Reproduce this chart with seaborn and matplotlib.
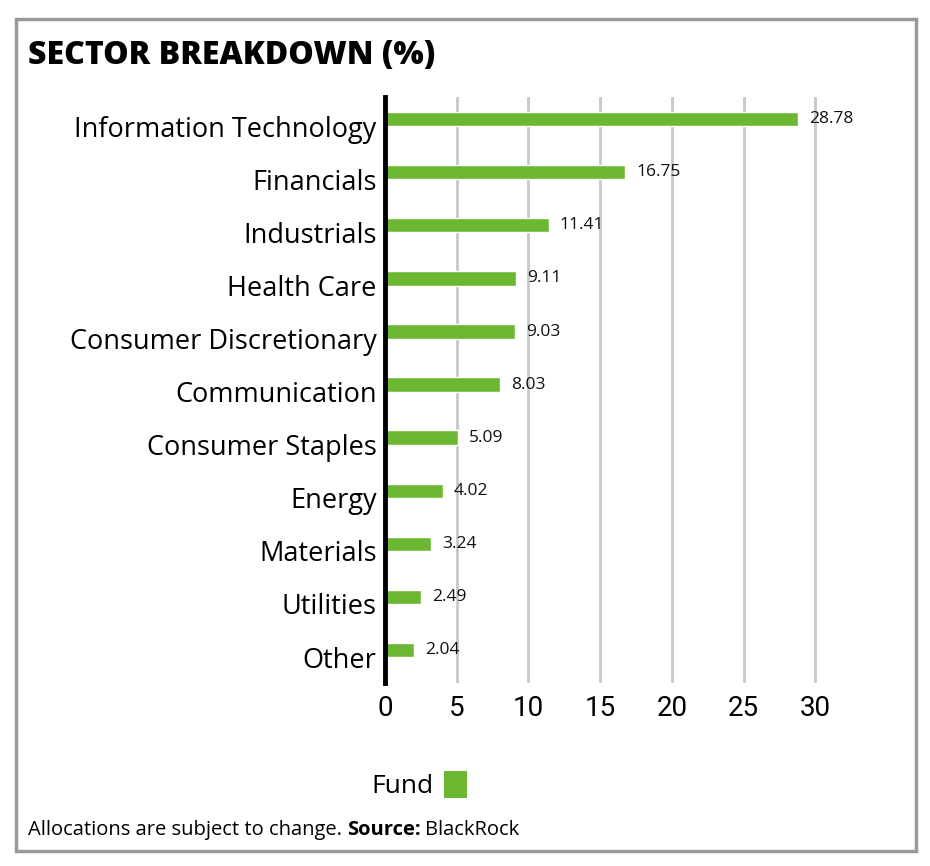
import matplotlib
matplotlib.use("Agg")
import matplotlib.pyplot as plt
import matplotlib.transforms as mtransforms
from matplotlib.patches import Rectangle, Patch
import seaborn as sns
import pandas as pd

# data
sectors = ["Information Technology", "Financials", "Industrials", "Health Care",
           "Consumer Discretionary", "Communication", "Consumer Staples", "Energy",
           "Materials", "Utilities", "Other"]
weights = [28.78, 16.75, 11.41, 9.11, 9.03, 8.03, 5.09, 4.02, 3.24, 2.49, 2.04]
x_ticks = [0, 5, 10, 15, 20, 25, 30]

green = "#6db833"

df = pd.DataFrame({"sector": sectors, "weight": weights})

sns.set_style("white")
plt.rcParams["font.family"] = ["Open Sans", "DejaVu Sans"]
plt.rcParams["text.color"] = "black"
plt.rcParams["xtick.color"] = "black"
plt.rcParams["ytick.color"] = "black"

fig = plt.figure(figsize=(9.3, 8.66), dpi=100)
ax = fig.add_axes([385 / 930, 1 - 683 / 866, (844 - 385) / 930, (683 - 97) / 866])

sns.barplot(data=df, x="weight", y="sector", color=green, saturation=1,
            width=0.27, ax=ax)

ax.set_xlim(0, 32)
ax.set_ylim(10.62, -0.415)
ax.set_xticks(x_ticks)
ax.set_xlabel("")
ax.set_ylabel("")
ax.grid(axis="x", color="#c8c8c8", linewidth=2)
ax.grid(axis="y", visible=False)
ax.set_axisbelow(True)
for side in ["top", "right", "bottom"]:
    ax.spines[side].set_visible(False)
ax.spines["left"].set_color("black")
ax.spines["left"].set_linewidth(3.5)
ax.spines["left"].set_zorder(5)

ax.tick_params(axis="y", length=0, pad=6, labelsize=19.5)
ax.tick_params(axis="x", length=0, pad=9)
for lbl in ax.get_xticklabels():
    lbl.set_fontfamily(["Roboto", "DejaVu Sans"])
    lbl.set_fontsize(20)

# category labels sit a bit under the bar centres
shift = mtransforms.ScaledTranslation(0, -7 / 100, fig.dpi_scale_trans)
for lbl in ax.get_yticklabels():
    lbl.set_transform(lbl.get_transform() + shift)

ax.bar_label(ax.containers[0], labels=[f"{w:.2f}" for w in weights],
             padding=8, fontsize=12.5, color="#111111")
for t in ax.texts:
    t.set_y(t.get_position()[1] - 0.05)

# title
fig.text(28 / 930, 1 - 56 / 866, "SECTOR BREAKDOWN (%)", fontsize=23,
         fontweight="heavy", ha="left", va="center")

# legend: text first, swatch after
handles = [Patch(facecolor=green, edgecolor="none", label="Fund")]
fig.legend(handles=handles, loc="center", bbox_to_anchor=(419 / 930, 1 - 785 / 866),
           frameon=False, markerfirst=False, fontsize=19, handlelength=0.85,
           handleheight=1.2, handletextpad=0.4)

# footer with bold part
fs = 14.5
t1 = fig.text(28 / 930, 1 - 830 / 866, "Allocations are subject to change. ",
              fontsize=fs, ha="left", va="center")
renderer = fig.canvas.get_renderer()
bb = t1.get_window_extent(renderer)
t2 = fig.text(bb.x1 / fig.bbox.width, 1 - 830 / 866, "Source:", fontsize=fs,
              fontweight="bold", ha="left", va="center")
bb2 = t2.get_window_extent(renderer)
fig.text(bb2.x1 / fig.bbox.width + 4 / 930, 1 - 830 / 866, "BlackRock",
         fontsize=fs, ha="left", va="center")

# outer frame
fig.patches.append(Rectangle((16 / 930, 1 - 851 / 866), (916 - 16) / 930,
                             (851 - 19) / 866, transform=fig.transFigure,
                             fill=False, edgecolor="#999999", linewidth=2.5))

fig.savefig("out.png", dpi=100)
